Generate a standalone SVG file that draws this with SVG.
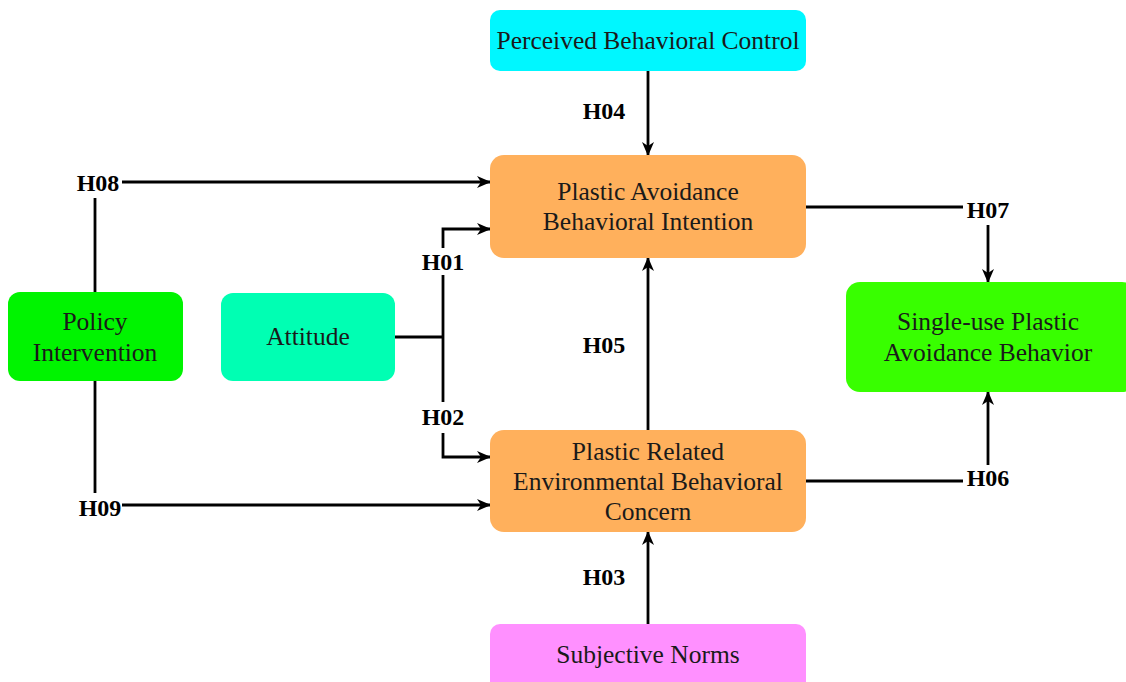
<svg xmlns="http://www.w3.org/2000/svg" width="1126" height="682" viewBox="0 0 1126 682">
<style>
.box{stroke:none}
.t{font-family:'Liberation Serif','DejaVu Serif',serif;font-size:25.5px;fill:#1a1a1a;text-anchor:middle}
.l{font-family:'Liberation Serif','DejaVu Serif',serif;font-size:24px;font-weight:bold;fill:#000;text-anchor:middle}
.c{fill:none;stroke:#000;stroke-width:2.8}
</style>
<defs>
<marker id="ah" viewBox="0 0 14 12" refX="13" refY="6" markerWidth="14" markerHeight="12" markerUnits="userSpaceOnUse" orient="auto">
<path d="M0,0 L14,6 L0,12 L4,6 Z" fill="#000"/>
</marker>
</defs>
<rect width="1126" height="682" fill="#fff"/>
<g id="connectors">
<line class="c" x1="648" y1="71" x2="648" y2="155" marker-end="url(#ah)"/>
<line class="c" x1="122" y1="182" x2="490" y2="182" marker-end="url(#ah)"/>
<line class="c" x1="95" y1="198" x2="95" y2="292"/>
<line class="c" x1="95" y1="381" x2="95" y2="493"/>
<line class="c" x1="122" y1="505" x2="490" y2="505" marker-end="url(#ah)"/>
<line class="c" x1="395" y1="337" x2="443" y2="337"/>
<polyline class="c" points="443,248 443,229 490,229" marker-end="url(#ah)"/>
<line class="c" x1="443" y1="275" x2="443" y2="402"/>
<polyline class="c" points="443,433 443,457 490,457" marker-end="url(#ah)"/>
<line class="c" x1="648" y1="430" x2="648" y2="258" marker-end="url(#ah)"/>
<line class="c" x1="648" y1="624" x2="648" y2="532" marker-end="url(#ah)"/>
<line class="c" x1="806" y1="207" x2="963" y2="207"/>
<line class="c" x1="988" y1="225" x2="988" y2="282" marker-end="url(#ah)"/>
<line class="c" x1="806" y1="481" x2="963" y2="481"/>
<line class="c" x1="988" y1="465" x2="988" y2="392" marker-end="url(#ah)"/>
<text class="l" x="604" y="119">H04</text>
<text class="l" x="98" y="191">H08</text>
<text class="l" x="443" y="270">H01</text>
<text class="l" x="443" y="425">H02</text>
<text class="l" x="100" y="516">H09</text>
<text class="l" x="604" y="353">H05</text>
<text class="l" x="604" y="585">H03</text>
<text class="l" x="988" y="218">H07</text>
<text class="l" x="988" y="486">H06</text>
</g>
<g id="perceived">
<rect class="box" x="490" y="10" width="316" height="61" rx="10" fill="#00F7FF"/>
<text class="t" x="648" y="49">Perceived Behavioral Control</text>
</g>
<g id="intention">
<rect class="box" x="490" y="155" width="316" height="103" rx="14" fill="#FFB05C"/>
<text class="t" x="648" y="200">Plastic Avoidance</text>
<text class="t" x="648" y="230">Behavioral Intention</text>
</g>
<g id="policy">
<rect class="box" x="8" y="292" width="175" height="89" rx="12" fill="#00F400"/>
<text class="t" x="95" y="330">Policy</text>
<text class="t" x="95" y="361">Intervention</text>
</g>
<g id="attitude">
<rect class="box" x="221" y="293" width="174" height="88" rx="12" fill="#00FFB3"/>
<text class="t" x="308" y="345">Attitude</text>
</g>
<g id="concern">
<rect class="box" x="490" y="430" width="316" height="102" rx="14" fill="#FFB05C"/>
<text class="t" x="648" y="460">Plastic Related</text>
<text class="t" x="648" y="490">Environmental Behavioral</text>
<text class="t" x="648" y="520">Concern</text>
</g>
<g id="behavior">
<rect class="box" x="846" y="282" width="290" height="110" rx="14" fill="#38FF00"/>
<text class="t" x="988" y="330">Single-use Plastic</text>
<text class="t" x="988" y="361">Avoidance Behavior</text>
</g>
<g id="norms">
<rect class="box" x="490" y="624" width="316" height="70" rx="10" fill="#FF90FF"/>
<text class="t" x="648" y="663">Subjective Norms</text>
</g>
</svg>
